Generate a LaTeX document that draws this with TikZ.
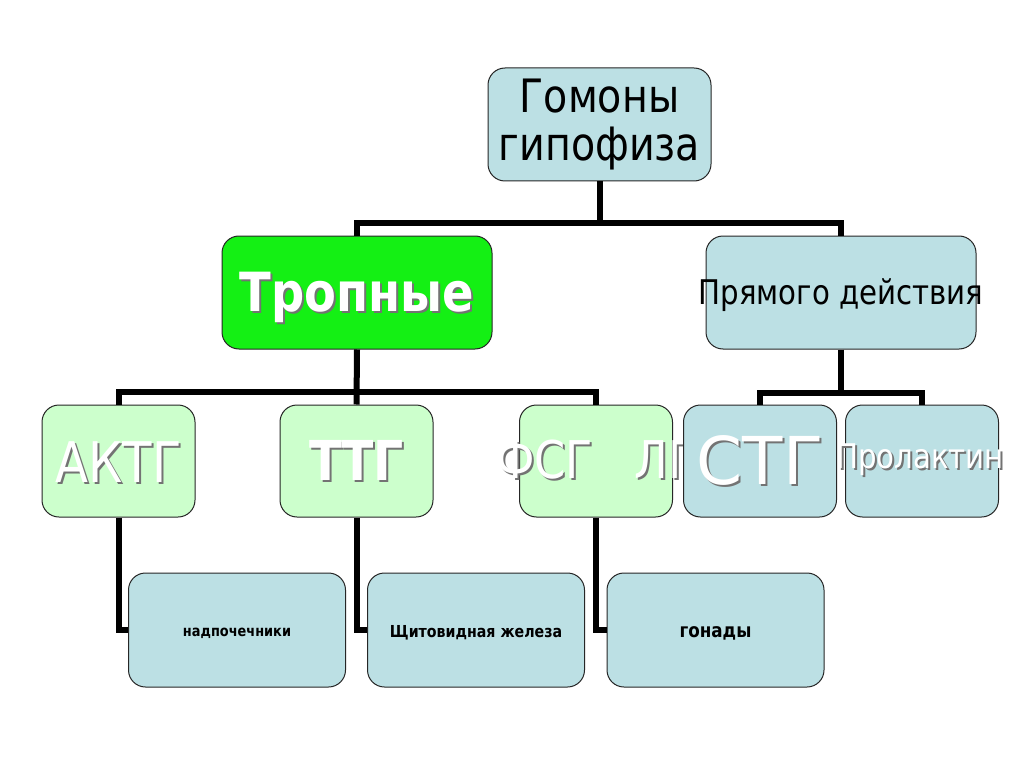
\documentclass[tikz,border=0pt]{standalone}
\usepackage{fontspec}
\setmainfont{DejaVu Sans}
\newfontfamily\tah[FakeStretch=0.86]{DejaVu Sans}
\definecolor{boxblue}{RGB}{188,224,228}
\definecolor{boxgreen}{RGB}{20,240,20}
\definecolor{lightgreen}{RGB}{204,255,204}
\newcommand{\shd}[1]{\rlap{\kern2pt\raisebox{-2pt}{\color{black!55}#1}}#1}
\newcommand{\nowidth}[1]{\makebox[0pt]{#1}}
\newcommand{\dropby}[2]{\raisebox{-#1}[\height][\depth]{#2}}
\begin{document}
\begin{tikzpicture}[x=1pt,y=-1pt,
  hbox/.style={draw=black!85,line width=1pt,rounded corners=17pt,inner sep=0pt,anchor=center},
  conn/.style={draw=black,line width=6pt,line join=miter},
  wtext/.style={text=white}]
\useasboundingbox (0,0) rectangle (1024,767);
\fill[white] (0,0) rectangle (1024,767);
% level 1
\node[hbox,fill=boxblue,minimum width=223pt,minimum height=113pt,align=center,
  font=\tah\fontsize{46}{48}\selectfont] (top) at (599.5,124.5) {Гомоны\\гипофиза};
% level 2
\node[hbox,fill=boxgreen,minimum width=270pt,minimum height=113pt,wtext,
  font=\tah\bfseries\fontsize{54}{58}\selectfont] (tro) at (357,292.5) {\nowidth{\dropby{6pt}{\shd{Тропные}}}};
\node[hbox,fill=boxblue,minimum width=270pt,minimum height=113pt,
  font=\tah\fontsize{34}{38}\selectfont] (pr) at (841,292.5) {\nowidth{\dropby{3pt}{Прямого действия}}};
% level 3
\node[hbox,fill=lightgreen,minimum width=153pt,minimum height=112pt,wtext,
  font=\tah\fontsize{56}{60}\selectfont] (a) at (118.5,461) {\nowidth{\dropby{2pt}{\shd{АКТГ}}}};
\node[hbox,fill=lightgreen,minimum width=153pt,minimum height=112pt,wtext,
  font=\tah\bfseries\fontsize{55}{58}\selectfont] (t) at (356.5,461) {\nowidth{\shd{ТТГ}}};
\node[hbox,fill=lightgreen,minimum width=153pt,minimum height=112pt,wtext,
  font=\tah\fontsize{52}{56}\selectfont] (f) at (596,461) {\nowidth{\shd{ФСГ\hspace{0.8em}ЛГ}}};
\node[hbox,fill=boxblue,minimum width=153pt,minimum height=112pt,wtext,
  font=\fontsize{66}{68}\selectfont] (s) at (760,461) {\nowidth{\shd{СТГ}}};
\node[hbox,fill=boxblue,minimum width=153pt,minimum height=112pt,wtext,
  font=\tah\fontsize{34}{38}\selectfont] (p) at (922,461) {\nowidth{\kern-4pt\shd{Пролактин}}};
% level 4
\node[hbox,fill=boxblue,minimum width=217pt,minimum height=114pt,
  font=\tah\bfseries\fontsize{15}{17}\selectfont] (n) at (237,630) {\dropby{3pt}{надпочечники}};
\node[hbox,fill=boxblue,minimum width=217pt,minimum height=114pt,
  font=\tah\bfseries\fontsize{16.5}{18}\selectfont] (sh) at (476,630) {\dropby{3pt}{Щитовидная железа}};
\node[hbox,fill=boxblue,minimum width=217pt,minimum height=114pt,
  font=\tah\bfseries\fontsize{19.5}{21}\selectfont] (g) at (715.5,630) {\dropby{3pt}{гонады}};
% connectors
\coordinate (j1) at (600,223);
\coordinate (j2) at (357,392);
\coordinate (j3) at (841,393);
\draw[conn] (top.south) -- (top.south |- j1);
\draw[conn] (tro.north) -- (tro.north |- j1) -- (pr.north |- j1) -- (pr.north);
\draw[conn] (tro.south) -- (t.north);
\draw[conn] (a.north) -- (a.north |- j2) -- (f.north |- j2) -- (f.north);
\draw[conn] (pr.south) -- (pr.south |- j3);
\draw[conn] (s.north) -- (s.north |- j3) -- (p.north |- j3) -- (p.north);
\draw[conn] (a.south) |- (n.west);
\draw[conn] (t.south) |- (sh.west);
\draw[conn] (f.south) |- (g.west);
\end{tikzpicture}
\end{document}
